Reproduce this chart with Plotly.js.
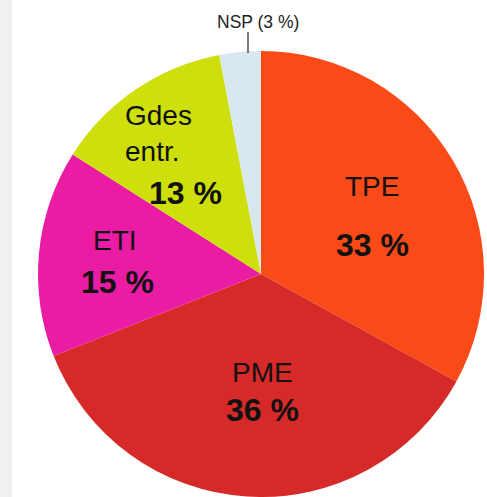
<!DOCTYPE html>
<html><head><meta charset="utf-8">
<script src="https://cdn.plot.ly/plotly-3.0.1.min.js"></script>
<style>html,body{margin:0;padding:0;background:#fff;}#chart{width:487px;height:497px;}</style>
</head><body><div id="chart"></div>
<script>
var categories = ["TPE", "PME", "ETI", "Gdes entr.", "NSP"];
var nameLabels = ["TPE", "PME", "ETI", "Gdes<br>entr.", ""];
var values = [33, 36, 15, 13, 3];
var colors = ["#fa4a18", "#d62a29", "#ea1ca4", "#cedf0b", "#d7e9ef"];

var W = 487, H = 497;
function px(x){return x/W;}
function py(y){return 1 - y/H;}
// label placement (layout only)
var namePos = [[372,186],[262,372],[115,240],[158,133]];
var pctPos  = [[372,245],[262,410],[117,282],[185,193]];

var annotations = [];
for (var i = 0; i < 4; i++) {
  annotations.push({xref:'paper', yref:'paper', x:px(namePos[i][0]), y:py(namePos[i][1]),
    xanchor:'center', yanchor:'middle', align:'left', showarrow:false,
    text:nameLabels[i], font:{family:'Liberation Sans, Arial, sans-serif', size:28, color:'#111'}});
  annotations.push({xref:'paper', yref:'paper', x:px(pctPos[i][0]), y:py(pctPos[i][1]),
    xanchor:'center', yanchor:'middle', showarrow:false,
    text:'<b>' + values[i] + ' %</b>', font:{family:'Liberation Sans, Arial, sans-serif', size:32, color:'#111'}});
}
annotations.push({xref:'paper', yref:'paper', x:px(258), y:py(22), xanchor:'center', yanchor:'middle',
  showarrow:false, text: categories[4] + ' (' + values[4] + ' %)',
  font:{family:'Liberation Sans, Arial, sans-serif', size:17.5, color:'#222'}});

var data = [{
  type:'pie', labels:categories, values:values, sort:false, direction:'clockwise', rotation:0,
  marker:{colors:colors, line:{width:0}}, textinfo:'none', hoverinfo:'label+percent',
  domain:{x:[px(38), px(484)], y:[0, py(51)]}
}];
var layout = {
  width:W, height:H, margin:{l:0,r:0,t:0,b:0}, showlegend:false,
  paper_bgcolor:'#ffffff',
  annotations:annotations,
  shapes:[
    {type:'rect', xref:'paper', yref:'paper', x0:0, x1:px(12), y0:0, y1:1, fillcolor:'#eef0f2', line:{width:0}, layer:'below'},
    {type:'line', xref:'paper', yref:'paper', x0:px(248), x1:px(248), y0:py(32), y1:py(53), line:{color:'#222', width:1.2}}
  ]
};
Plotly.newPlot('chart', data, layout, {displayModeBar:false, staticPlot:true});
</script></body></html>
